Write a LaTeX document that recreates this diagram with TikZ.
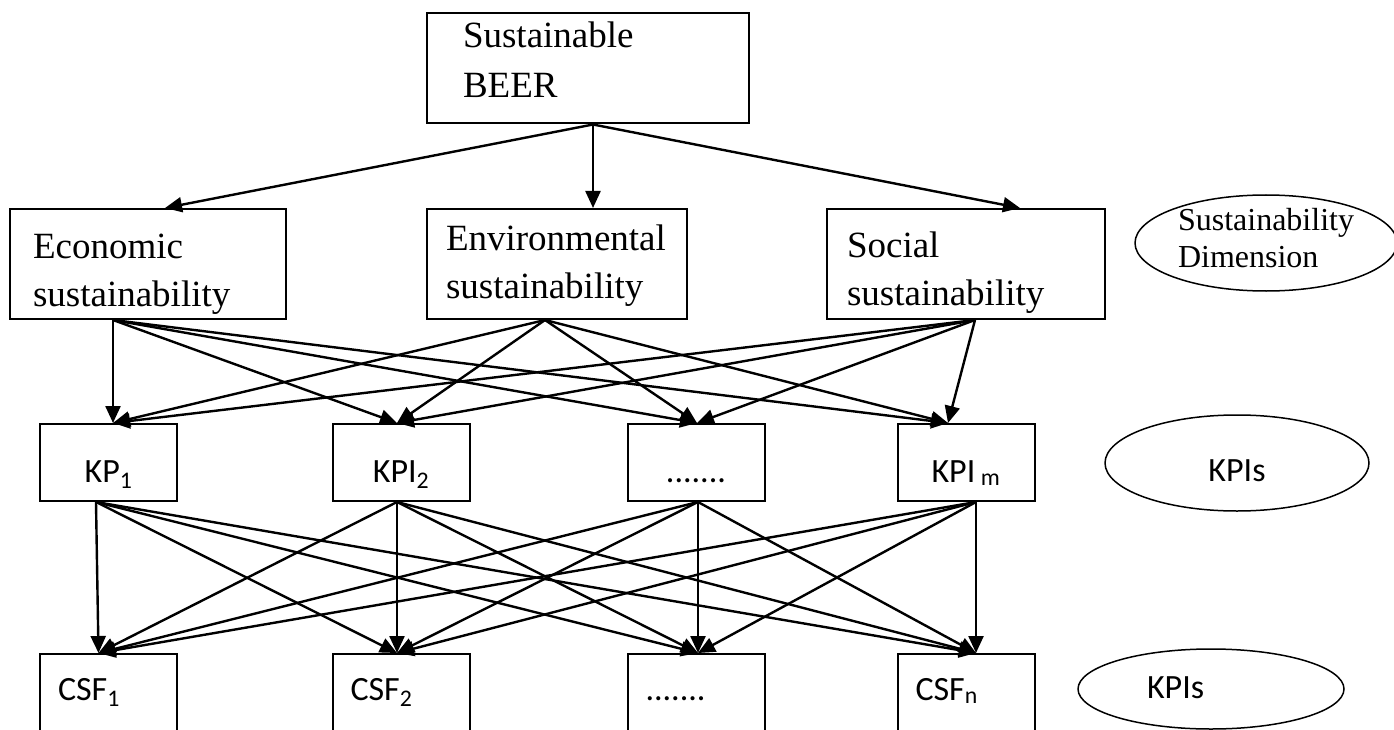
\documentclass[tikz,border=0pt]{standalone}
\usepackage{fontspec}
\setmainfont{Liberation Serif}
\newfontfamily\calibri{Carlito}
\usetikzlibrary{arrows.meta,shapes.geometric}
\tikzset{
    box/.style={draw,line width=2pt,inner sep=0pt,align=left},
    dimbox/.style={box,minimum height=110pt,font=\fontsize{37}{48}\selectfont},
    kbox/.style={box,minimum width=137pt,minimum height=77pt,font=\calibri\fontsize{34}{40}\selectfont},
    kpibox/.style={kbox,align=center,text height=45pt,text depth=6pt},
    csfbox/.style={kbox,text width=101pt,text height=25pt,text depth=10pt},
    tag/.style={draw,ellipse,line width=1.5pt,inner sep=0pt},
    arr/.style={line width=2.4pt,-{Triangle[length=17pt,width=15pt]}}
}
\begin{document}
\begin{tikzpicture}[x=1pt,y=-1pt]
    \path[use as bounding box,clip] (0,0) rectangle (1394,730);

    \node[dimbox,minimum width=322pt,text width=250pt,text height=20pt,text depth=61pt,
        font=\fontsize{37}{50}\selectfont] (beer) at (588,68.5) {Sustainable\\BEER};

    \node[dimbox,minimum width=276pt,text width=230pt,text height=34pt,text depth=46pt]
        (econ) at (148,264) {Economic\\sustainability};
    \node[dimbox,minimum width=260pt,text width=222pt,text height=26.5pt,text depth=54.5pt]
        (env) at (557,264) {Environmental\\sustainability};
    \node[dimbox,minimum width=278pt,text width=238pt,text height=33.5pt,text depth=47.5pt]
        (soc) at (966,264) {Social\\sustainability};

    \node[kpibox] (kp1) at (108.5,462.5) {KP\textsubscript{1}};
    \node[kpibox] (kpi2) at (401,462.5) {KPI\textsubscript{2}};
    \node[kpibox] (kdots) at (696,462.5) {.......};
    \node[kpibox] (kpim) at (966,462.5) {KPI\,\textsubscript{m}};

    \node[csfbox] (csf1) at (108.5,692.5) {CSF\textsubscript{1}};
    \node[csfbox] (csf2) at (401,692.5) {CSF\textsubscript{2}};
    \node[csfbox] (cdots) at (696,692.5) {.......};
    \node[csfbox] (csfn) at (966,692.5) {CSF\textsubscript{n}};

    \node[tag,minimum width=262pt,minimum height=96pt,align=left,text height=54pt,text depth=6pt,
        font=\fontsize{32}{37}\selectfont] (dim) at (1266,243) {Sustainability\\Dimension};
    \node[tag,minimum width=264pt,minimum height=96pt,text height=36pt,text depth=0pt,
        font=\calibri\fontsize{34}{40}\selectfont] (kpis) at (1237,463) {KPIs};
    \node[tag,minimum width=266pt,minimum height=80pt,align=left,text width=128pt,text height=25pt,text depth=7pt,
        font=\calibri\fontsize{34}{40}\selectfont] (csfs) at (1211,689) {KPIs};

    \coordinate (beer-out) at ([xshift=5pt]beer.south);
    \foreach \n/\d/\e in {econ/17/-35,env/36/-12,soc/54/9} {
        \coordinate (\n-in) at ([xshift=\d pt]\n.north);
        \coordinate (\n-out) at ([xshift=\e pt]\n.south);
    }
    \foreach \n/\d/\e in {kp1/4.5/-12.5,kpi2/-4/-4,kdots/1/2,kpim/-18/10} {
        \coordinate (\n-in) at ([xshift=\d pt]\n.north);
        \coordinate (\n-out) at ([xshift=\e pt]\n.south);
    }
    \foreach \n/\d in {csf1/-10,csf2/-4,cdots/2,csfn/10}
        \coordinate (\n-in) at ([xshift=\d pt]\n.north);

    \foreach \t in {econ,env,soc}
        \draw[arr] (beer-out) -- (\t-in);
    \foreach \s in {econ,env,soc}
        \foreach \t in {kp1,kpi2,kdots,kpim}
            \draw[arr] (\s-out) -- (\t-in);
    \foreach \s in {kp1,kpi2,kdots,kpim}
        \foreach \t in {csf1,csf2,cdots,csfn}
            \draw[arr] (\s-out) -- (\t-in);
\end{tikzpicture}
\end{document}
